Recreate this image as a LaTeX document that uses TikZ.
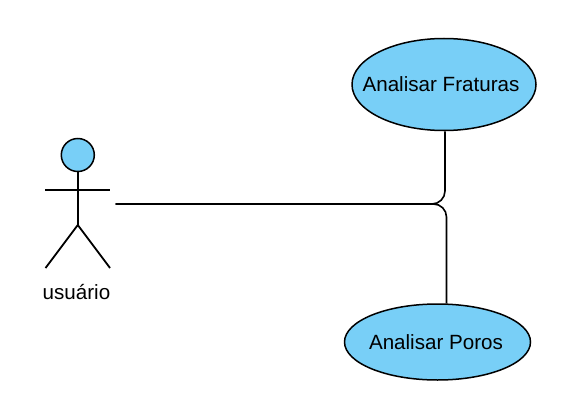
\documentclass[tikz,border=0pt]{standalone}
\usepackage{fontspec}
\setmainfont{Liberation Sans}
\usetikzlibrary{positioning, calc}
\usetikzlibrary{shapes.geometric}
\definecolor{casecolor}{RGB}{120,207,247}
\tikzset{
    usecase/.style={draw=black, fill=casecolor, ellipse, line width=1.5pt, inner xsep=-20pt, inner ysep=0pt},
    actorline/.style={line width=1.8pt},
    link/.style={line width=1.6pt, rounded corners=13pt}
}
\begin{document}
\begin{tikzpicture}[x=1pt,y=-1pt,every node/.style={font=\fontsize{20.6}{24}\selectfont}]
    \useasboundingbox (0,0) rectangle (572,409);
    \node[usecase, minimum width=184, minimum height=92] (fraturas) at (444,84.5) {Analisar Fraturas\kern6pt\null};
    \node[usecase, minimum width=186, minimum height=76] (poros) at (437.5,342) {Analisar Poros\kern3pt\null};
    % boneco
    \node[draw=black, fill=casecolor, circle, line width=1.5pt, minimum size=33, inner sep=0pt] (cabeca) at (77.8,155) {};
    \coordinate (quadril) at (77.8,225);
    \coordinate (bracoesq) at (45,190);
    \coordinate (bracodir) at (110,190);
    \coordinate (peesq) at (45.5,268);
    \coordinate (peedir) at (110,268);
    \draw[actorline] (cabeca.south) -- (quadril);
    \draw[actorline] (bracoesq) -- (bracodir);
    \draw[actorline] (peesq) -- (quadril) -- (peedir);
    \node (usuario) at (76.5,292) {usuário};
    % ligacoes
    \coordinate (inicio) at (115.5,204);
    \coordinate (juncao) at (445,204);
    \coordinate (juncaob) at (446.5,204);
    \draw[link] (inicio) -- (juncao) -- (fraturas.south -| juncao);
    \draw[link] (inicio) -- (juncaob) -- (poros.north -| juncaob);
\end{tikzpicture}
\end{document}
